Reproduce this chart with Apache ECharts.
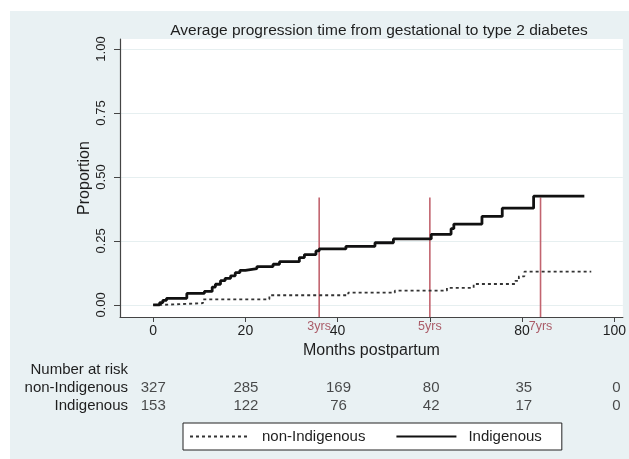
<!DOCTYPE html>
<html><head><meta charset="utf-8">
<script src="https://cdn.jsdelivr.net/npm/echarts@6/dist/echarts.min.js"></script>
<style>html,body{margin:0;padding:0;background:#fff}#c{width:629px;height:459px}</style>
</head><body><div id="c"></div>
<script>
// ---- data ----
const titleText = 'Average progression time from gestational to type 2 diabetes';
const xTickValues = [0, 20, 40, 60, 80, 100];
const xLabelValues = [0, 20, 40, 80, 100];
const yTickValues = [0, 0.25, 0.5, 0.75, 1];

const indigT = [0,1.4,2.1,2.9,7.3,11.1,12.8,13.5,14.6,15.6,16.8,17.8,18.8,20.0,22.5,26.0,27.4,31.7,32.8,35.3,36.0,41.8,48.1,52.1,60.3,64.6,65.2,71.3,75.7,82.5,93.5];
const indigP = [0,0.009,0.018,0.026,0.045,0.053,0.070,0.081,0.095,0.104,0.114,0.126,0.135,0.142,0.150,0.159,0.169,0.185,0.197,0.211,0.219,0.229,0.243,0.258,0.276,0.298,0.316,0.346,0.378,0.425,0.425];

const nonT = [0,1.5,10.8,25.2,42.3,52.4,63.7,69.5,78.5,79.3,80.5,95];
const nonP = [0,0.007,0.022,0.038,0.048,0.056,0.067,0.082,0.094,0.112,0.130,0.130];

const refMonths = [36, 60, 84];
const refLabels = ['3yrs', '5yrs', '7yrs'];
const refTop = 0.42;

const riskGroups = ['non-Indigenous', 'Indigenous'];
const riskTimes = [0, 20, 40, 60, 80, 100];
const riskNon = [327, 285, 169, 80, 35, 0];
const riskInd = [153, 122, 76, 42, 17, 0];

// ---- chart ----
const FONT = 'Liberation Sans, Arial, sans-serif';
const TXT = '#1e1e1e';
const X_MIN = -7.19, X_MAX = 101.85;
const Y_MIN = -0.047, Y_MAX = 1.039;

const chart = echarts.init(document.getElementById('c'), null, {renderer: 'canvas'});

const refSeries = refMonths.map((m, i) => ({
  type: 'line', name: 'ref' + i, xAxisIndex: 0, yAxisIndex: 0,
  data: [[m, Y_MIN], [m, refTop]], symbol: 'none', silent: true,
  lineStyle: {color: '#c2646f', width: 1.6}, z: 1
}));

const refLabelSeries = {
  type: 'scatter', name: 'reflabels', xAxisIndex: 0, yAxisIndex: 0,
  data: refMonths.map((m, i) => ({value: [m, Y_MIN], name: refLabels[i]})),
  symbolSize: 0, silent: true, clip: false,
  label: {show: true, position: 'bottom', distance: 3, formatter: p => p.name,
          color: '#9a3444', fontSize: 12.5, fontFamily: FONT}
};

const riskSeries = {
  type: 'scatter', name: 'risk', xAxisIndex: 1, yAxisIndex: 1,
  data: riskTimes.map((t, i) => [t, riskGroups[0], riskNon[i]])
        .concat(riskTimes.map((t, i) => [t, riskGroups[1], riskInd[i]])),
  symbolSize: 0, silent: true,
  label: {show: true, position: 'inside', formatter: p => String(p.value[2]),
          color: TXT, fontSize: 15, fontFamily: FONT}
};

chart.setOption({
  backgroundColor: '#fff',
  animation: false,
  graphic: [
    {type: 'rect', z: -100, shape: {x: 10, y: 11, width: 619, height: 448}, style: {fill: '#e9f1f3'}},
    {type: 'text', z: 10, x: 128, y: 370, style: {text: 'Number at risk', align: 'right', verticalAlign: 'middle',
      fill: TXT, font: '15px ' + FONT}}
  ],
  title: {
    text: titleText, left: 374, top: 18, textAlign: 'center',
    textStyle: {fontSize: 15.5, fontWeight: 'normal', color: TXT, fontFamily: FONT}
  },
  legend: {
    data: ['non-Indigenous', 'Indigenous'],
    left: 183, top: 423,
    itemWidth: 60, itemHeight: 16, itemGap: 30,
    padding: [6, 20, 6, 6],
    backgroundColor: '#fff', borderColor: '#222', borderWidth: 1,
    itemStyle: {opacity: 0, borderWidth: 0},
    textStyle: {fontSize: 15, color: TXT, fontFamily: FONT, padding: [0, 0, 0, 7]}
  },
  grid: [
    {left: 120, right: 4, top: 39, bottom: 142, show: true, backgroundColor: '#fff', borderWidth: 0},
    {left: 133, right: 4, top: 379, height: 36, show: false}
  ],
  xAxis: [
    {
      type: 'value', gridIndex: 0, min: X_MIN, max: X_MAX,
      name: 'Months postpartum', nameLocation: 'middle', nameGap: 24,
      nameTextStyle: {fontSize: 16, color: TXT, fontFamily: FONT},
      axisLine: {show: true, onZero: false, lineStyle: {color: '#444', width: 1.2}},
      axisTick: {show: true, length: 5, customValues: xTickValues, lineStyle: {color: '#444'}},
      axisLabel: {customValues: xLabelValues, margin: 7, fontSize: 14, color: TXT, fontFamily: FONT},
      splitLine: {show: false}
    },
    {
      type: 'value', gridIndex: 1, min: -4.38, max: X_MAX, show: false
    }
  ],
  yAxis: [
    {
      type: 'value', gridIndex: 0, min: Y_MIN, max: Y_MAX,
      name: 'Proportion', nameLocation: 'middle', nameGap: 27, nameRotate: 90, nameMoveOverlap: false,
      nameTextStyle: {fontSize: 16, color: TXT, fontFamily: FONT},
      axisLine: {show: true, onZero: false, lineStyle: {color: '#444', width: 1.2}},
      axisTick: {show: true, length: 6, customValues: yTickValues, lineStyle: {color: '#444'}},
      axisLabel: {customValues: yTickValues, rotate: 90, margin: 12, fontSize: 13, color: TXT, fontFamily: FONT,
                  formatter: v => v.toFixed(2)},
      splitLine: {show: true, lineStyle: {color: '#e6eff0', width: 1}}
    },
    {
      type: 'category', gridIndex: 1, data: riskGroups, inverse: true,
      axisLine: {show: false}, axisTick: {show: false}, splitLine: {show: false},
      axisLabel: {interval: 0, margin: 5, fontSize: 15, color: TXT, fontFamily: FONT}
    }
  ],
  series: [
    {
      type: 'line', name: 'non-Indigenous', xAxisIndex: 0, yAxisIndex: 0, step: 'end',
      data: nonT.map((t, i) => [t, nonP[i]]), symbol: 'none',
      lineStyle: {color: '#333', width: 1.8, type: [3, 3]}, itemStyle: {color: '#333'}, z: 3
    },
    {
      type: 'line', name: 'Indigenous', xAxisIndex: 0, yAxisIndex: 0, step: 'end',
      data: indigT.map((t, i) => [t, indigP[i]]), symbol: 'none',
      lineStyle: {color: '#111', width: 2.8}, itemStyle: {color: '#111'}, z: 4
    }
  ].concat(refSeries, [refLabelSeries, riskSeries])
});
</script></body></html>
